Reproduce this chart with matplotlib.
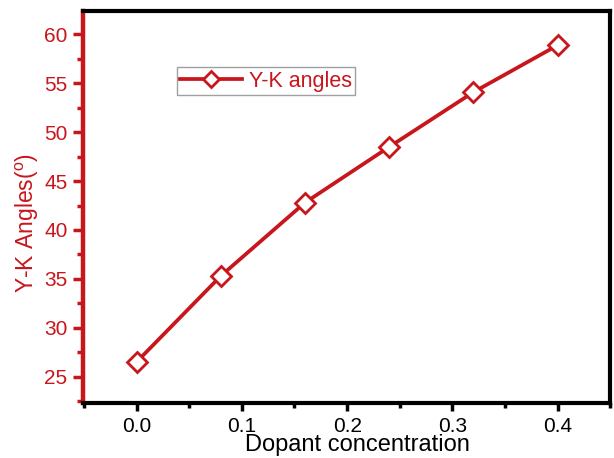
import numpy as np
import matplotlib.pyplot as plt
from matplotlib.ticker import MultipleLocator

# data
conc = [0.0, 0.08, 0.16, 0.24, 0.32, 0.40]
angles = [26.5, 35.3, 42.8, 48.5, 54.1, 58.9]

red = '#c8161d'
plt.rcParams['font.family'] = ['Liberation Sans', 'DejaVu Sans']

fig = plt.figure(figsize=(6.14, 4.58), dpi=100)
ax = fig.add_axes([0.135, 0.12, 0.859, 0.856])

ax.plot(conc, angles, color=red, lw=2.7, marker='D', ms=10.5,
        mfc='white', mec=red, mew=2, label='Y-K angles')

ax.set_xlim(-0.051, 0.45)
ax.set_ylim(22.3, 62.4)
ax.xaxis.set_major_locator(MultipleLocator(0.1))
ax.xaxis.set_minor_locator(MultipleLocator(0.05))
ax.yaxis.set_major_locator(MultipleLocator(5))
ax.yaxis.set_minor_locator(MultipleLocator(2.5))
ax.xaxis.set_major_formatter(plt.FormatStrFormatter('%.1f'))

for s in ['top', 'right', 'bottom']:
    ax.spines[s].set_linewidth(3)
    ax.spines[s].set_color('black')
ax.spines['left'].set_linewidth(3.2)
ax.spines['left'].set_color(red)

ax.tick_params(axis='x', which='major', direction='out', length=6, width=2.5, labelsize=15, colors='black', pad=4)
ax.tick_params(axis='x', which='minor', direction='out', length=3.5, width=2.5, colors='black')
ax.tick_params(axis='y', which='major', direction='out', length=7, width=2.5, labelsize=15, colors=red, pad=4)
ax.tick_params(axis='y', which='minor', direction='out', length=4, width=2.5, colors=red)

ax.set_xlabel('Dopant concentration', fontsize=17)
ax.set_ylabel('Y-K Angles($^{\\mathregular{o}}$)', fontsize=16.5, color=red)
ax.xaxis.set_label_coords(0.52, -0.08)
ax.yaxis.set_label_coords(-0.08, 0.46)

leg = ax.legend(loc='upper left', bbox_to_anchor=(0.178, 0.856), fontsize=15.5,
                frameon=True, fancybox=False, borderpad=0.15, handlelength=2.9,
                handletextpad=0.3, borderaxespad=0, markerscale=0.75)
leg.get_frame().set_edgecolor('#888888')
leg.get_frame().set_linewidth(1)
for t in leg.get_texts():
    t.set_color(red)

fig.savefig('out.png', dpi=100)
